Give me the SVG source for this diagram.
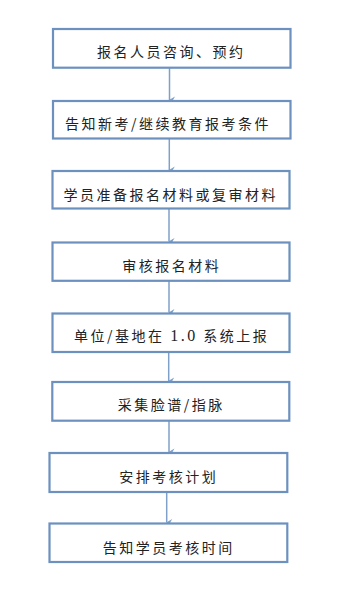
<svg xmlns="http://www.w3.org/2000/svg" width="345" height="601" viewBox="0 0 345 601">
<style>
.box{fill:#ffffff;stroke:#6c91be;stroke-width:2.2}
.lbl{font-family:"Noto Sans CJK SC","Liberation Serif",serif;font-size:14px;fill:#222222;text-anchor:middle;letter-spacing:2.5px}
.num{font-family:"Liberation Serif","Noto Sans CJK SC",serif;font-size:16px}
.con{stroke:#7fa1c9;stroke-width:1.5;fill:none;marker-end:url(#ah)}
</style>
<defs>
<marker id="ah" viewBox="0 0 8 8" refX="4" refY="7.5" markerWidth="8" markerHeight="8" markerUnits="userSpaceOnUse" orient="auto-start-reverse">
<path d="M0.5,2 L4,8 L7.5,2 L4,4 Z" fill="#7fa1c9"/>
</marker>
</defs>
<rect width="345" height="601" fill="#ffffff"/>
<g id="connectors">
<line class="con" x1="169.5" y1="68" x2="169.5" y2="100"/>
<line class="con" x1="169.3" y1="138.5" x2="169.3" y2="170"/>
<line class="con" x1="169" y1="208.5" x2="169" y2="241.5"/>
<line class="con" x1="169" y1="281" x2="169" y2="312.5"/>
<line class="con" x1="168.7" y1="352.5" x2="168.7" y2="381"/>
<line class="con" x1="169" y1="421" x2="169" y2="452"/>
<line class="con" x1="166.7" y1="492.5" x2="166.7" y2="522.5"/>
</g>
<g id="n1"><rect class="box" x="53" y="29" width="237.5" height="38.7"/><text class="lbl" x="171.2" y="57">报名人员咨询、预约</text></g>
<g id="n2"><rect class="box" x="53" y="101" width="237.5" height="37.5"/><text class="lbl" x="168" y="129">告知新考/继续教育报考条件</text></g>
<g id="n3"><rect class="box" x="52.5" y="171" width="237" height="37.5"/><text class="lbl" x="170.8" y="200">学员准备报名材料或复审材料</text></g>
<g id="n4"><rect class="box" x="52.5" y="242.5" width="237" height="38.3"/><text class="lbl" x="171.7" y="271">审核报名材料</text></g>
<g id="n5"><rect class="box" x="52.5" y="313.5" width="237" height="38.5"/><text class="lbl" x="171.7" y="341">单位/基地在 <tspan class="num">1.0</tspan> 系统上报</text></g>
<g id="n6"><rect class="box" x="52.3" y="382" width="237" height="38.7"/><text class="lbl" x="171.2" y="410">采集脸谱/指脉</text></g>
<g id="n7"><rect class="box" x="49.5" y="453" width="237.8" height="39"/><text class="lbl" x="168.7" y="481.5">安排考核计划</text></g>
<g id="n8"><rect class="box" x="49.5" y="523.5" width="237.8" height="38.5"/><text class="lbl" x="168.7" y="553">告知学员考核时间</text></g>
</svg>
